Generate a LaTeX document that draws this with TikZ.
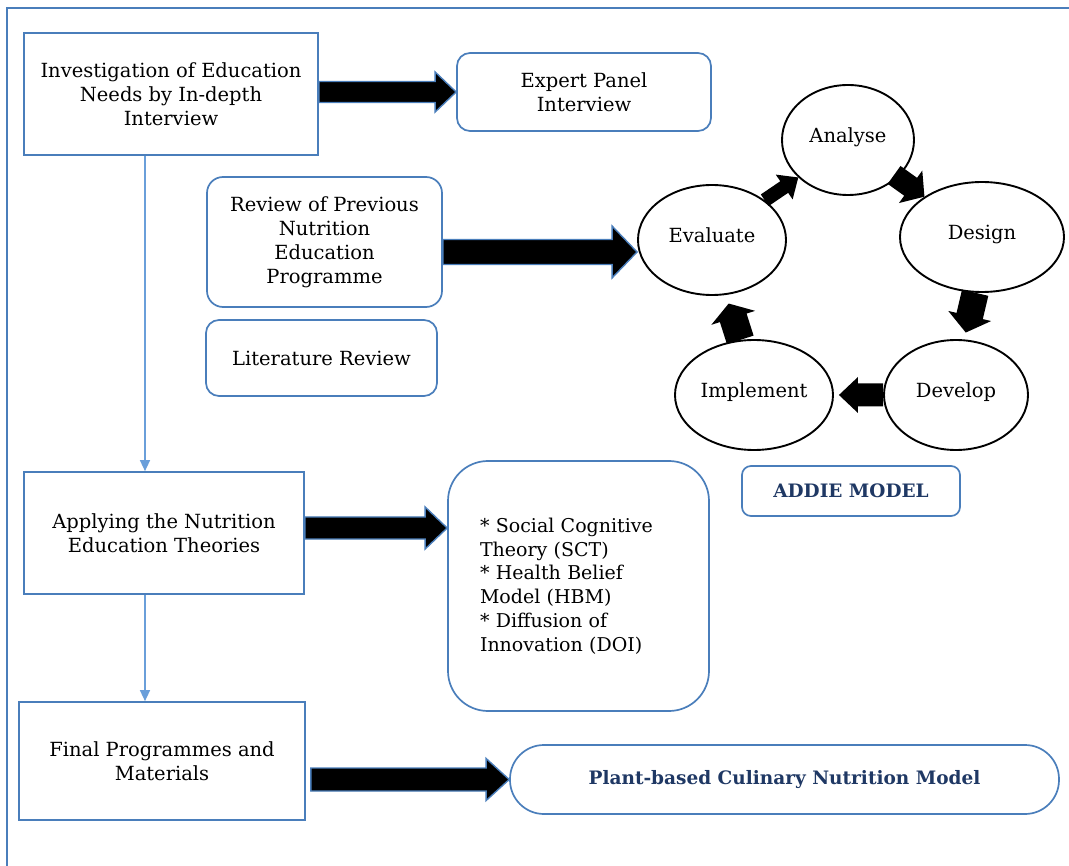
\documentclass[tikz,border=0pt]{standalone}
\usepackage{fontspec}
\setmainfont{DejaVu Serif}
\usetikzlibrary{shapes.geometric,arrows.meta,calc}
\definecolor{bbord}{HTML}{4A7EBB}
\definecolor{lblue}{HTML}{6A9FDA}
\definecolor{navy}{HTML}{1F3864}
% #1 style, #2 from, #3 to, #4 shaft half width, #5 head half width, #6 head length
\newcommand\blockarrow[6][]{%
  \path[#1] let \p1=(#2), \p2=(#3),
    \n1={atan2(\y2-\y1,\x2-\x1)}, \n2={veclen(\x2-\x1,\y2-\y1)} in
    ([shift={(\p1)},rotate=\n1]0pt,#4pt)
    -- ([shift={(\p1)},rotate=\n1]\n2-#6pt,#4pt)
    -- ([shift={(\p1)},rotate=\n1]\n2-#6pt,#5pt)
    -- ([shift={(\p1)},rotate=\n1]\n2,0pt)
    -- ([shift={(\p1)},rotate=\n1]\n2-#6pt,-#5pt)
    -- ([shift={(\p1)},rotate=\n1]\n2-#6pt,-#4pt)
    -- ([shift={(\p1)},rotate=\n1]0pt,-#4pt) -- cycle;}
\begin{document}
\begin{tikzpicture}[x=1pt,y=-1pt,
  font=\fontsize{19.5}{24}\selectfont,
  sqbox/.style={draw=bbord, line width=1.7pt, align=center, inner sep=0pt},
  rbox/.style={sqbox, rounded corners=#1},
  ell/.style={ellipse, draw=black, line width=1.9pt, inner sep=0pt, text depth=10pt},
  conn/.style={draw=lblue, line width=1.5pt, -{Triangle[length=11pt,width=10pt]}},
  bigarrow/.style={fill=black, draw=bbord, line width=1.4pt, line join=miter},
  smallarrow/.style={fill=black},
  navytext/.style={text=navy, font=\fontsize{18.5}{22}\selectfont\bfseries}]
\useasboundingbox (0,0) rectangle (1069,866);
% outer frame
\draw[bbord, line width=1.5pt] (7,866) -- (7,8) -- (1069,8);

% boxes
\node[sqbox, minimum width=294pt, minimum height=122pt] (inv) at (171,94)
  {Investigation of Education\\Needs by In-depth\\Interview};
\node[rbox=13pt, minimum width=254pt, minimum height=78pt] (exp) at (584,92)
  {Expert Panel\\Interview};
\node[rbox=16pt, minimum width=235pt, minimum height=130pt] (rev) at (324.5,242)
  {Review of Previous\\Nutrition\\Education\\Programme};
\node[rbox=13pt, minimum width=231pt, minimum height=76pt] (lit) at (321.5,358)
  {Literature Review};
\node[sqbox, minimum width=280pt, minimum height=122pt] (app) at (164,533)
  {Applying the Nutrition\\Education Theories};
\node[rbox=40pt, minimum width=261pt, minimum height=250pt, text width=197pt, align=left,
  font=\fontsize{19}{23.8}\selectfont] (sct) at (578.5,586)
  {* Social Cognitive\\{}Theory (SCT)\\{}* Health Belief\\{}Model (HBM)\\{}* Diffusion of\\{}Innovation (DOI)};
\node[sqbox, minimum width=286pt, minimum height=118pt] (fin) at (162,761)
  {Final Programmes and\\Materials};
\node[rbox=34pt, minimum width=549pt, minimum height=69pt, navytext] (plant) at (784.5,779.5)
  {Plant-based Culinary Nutrition Model};
\node[rbox=9pt, minimum width=218pt, minimum height=50pt, navytext] (addie) at (851,491)
  {ADDIE MODEL};

% ADDIE cycle
\node[ell, minimum width=132pt, minimum height=110pt] (ana) at (848,140) {Analyse};
\node[ell, minimum width=164pt, minimum height=110pt] (des) at (982,237) {Design};
\node[ell, minimum width=144pt, minimum height=110pt] (dev) at (956,395) {Develop};
\node[ell, minimum width=158pt, minimum height=110pt] (imp) at (754,395) {Implement};
\node[ell, minimum width=148pt, minimum height=110pt] (eva) at (712,240) {Evaluate};

% thin connectors
\draw[conn] ([xshift=-26pt]inv.south) -- ([xshift=-26pt]inv.south |- app.north);
\draw[conn] ([xshift=-19pt]app.south) -- ([xshift=-19pt]app.south |- fin.north);

% block arrows
\blockarrow[bigarrow]{inv.east |- exp.west}{exp.west}{10.5}{20}{21}
\blockarrow[bigarrow]{[yshift=-10pt]rev.east}{[yshift=-12pt]eva.west}{12.5}{26}{25}
\coordinate (a3s) at ([yshift=5pt]app.east);
\blockarrow[bigarrow]{a3s}{sct.west |- a3s}{11}{21}{22}
\coordinate (a4s) at ([xshift=5pt]fin.east |- plant.west);
\blockarrow[bigarrow]{a4s}{plant.west}{11.5}{21}{23}

% cycle arrows
\blockarrow[smallarrow]{eva.37}{ana.217}{7}{15}{17}
\blockarrow[smallarrow]{[shift={(-2pt,4pt)}]ana.321}{des.145}{11}{20}{17}
\blockarrow[smallarrow]{des.263}{[yshift=7pt]dev.80}{13.5}{22}{17}
\blockarrow[smallarrow]{dev.west}{[xshift=5pt]imp.east}{11.5}{18}{19}
\blockarrow[smallarrow]{imp.104}{[yshift=-9pt]eva.287}{14}{23}{15}
\end{tikzpicture}
\end{document}
